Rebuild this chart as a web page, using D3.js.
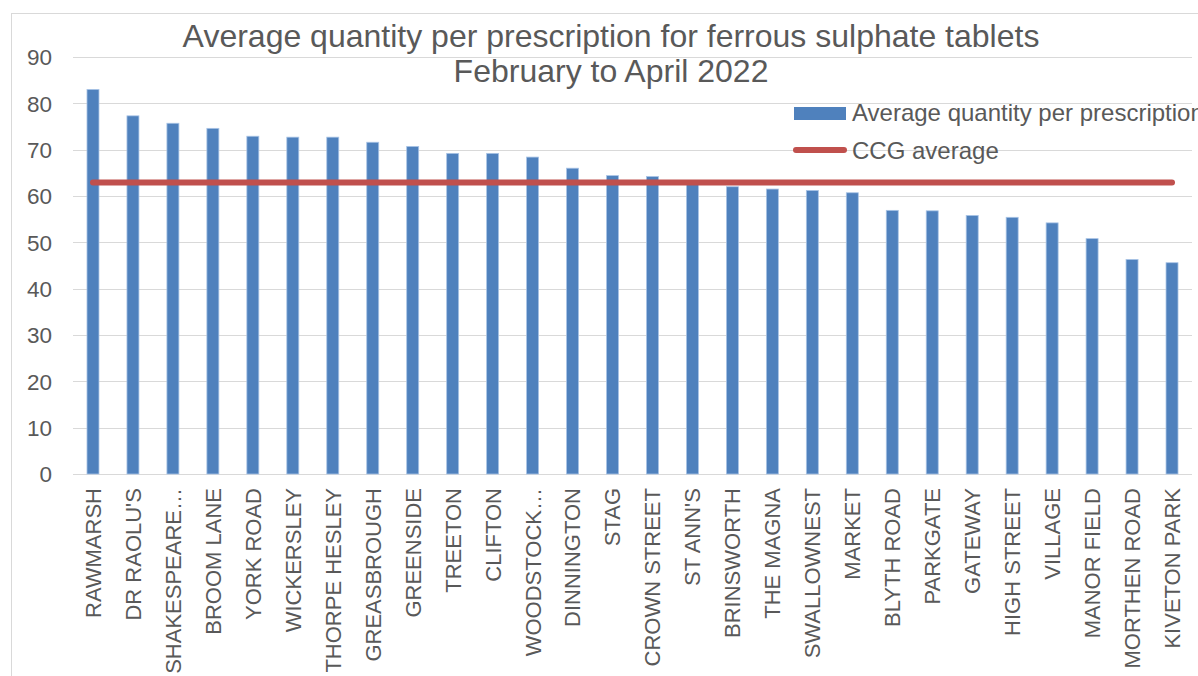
<!DOCTYPE html>
<html>
<head>
<meta charset="utf-8">
<script src="https://cdn.jsdelivr.net/npm/d3@7"></script>
<style>
html,body{margin:0;padding:0;background:#fff;overflow:hidden;}
svg{display:block;font-family:"Liberation Sans",Arial,sans-serif;}
</style>
</head>
<body>
<svg id="chart" width="1198" height="676"></svg>
<script>
const categories = ["RAWMARSH","DR RAOLU'S","SHAKESPEARE…","BROOM LANE","YORK ROAD","WICKERSLEY","THORPE HESLEY","GREASBROUGH","GREENSIDE","TREETON","CLIFTON","WOODSTOCK…","DINNINGTON","STAG","CROWN STREET","ST ANN'S","BRINSWORTH","THE MAGNA","SWALLOWNEST","MARKET","BLYTH ROAD","PARKGATE","GATEWAY","HIGH STREET","VILLAGE","MANOR FIELD","MORTHEN ROAD","KIVETON PARK"];
const avgQuantity = [83.0,77.3,75.7,74.6,72.9,72.7,72.7,71.6,70.7,69.2,69.2,68.4,66.0,64.4,64.2,62.6,62.0,61.5,61.2,60.7,56.9,56.8,55.8,55.4,54.2,50.8,46.3,45.6];
const ccgAverage = 62.9;
const yTicks = [0,10,20,30,40,50,60,70,80,90];
const titleLines = ["Average quantity per prescription for ferrous sulphate tablets","February to April 2022"];
const legendLabels = ["Average quantity per prescription","CCG average"];

const textColor = "#595959";
const barColor = "#4F81BD";
const lineColor = "#C0504D";
const gridColor = "#D9D9D9";

const svg = d3.select("#chart");

// chart area border
svg.append("rect").attr("x",11.5).attr("y",13.5).attr("width",1300).attr("height",800)
  .attr("fill","none").attr("stroke",gridColor).attr("stroke-width",1);

const plot = {left:73, right:1192, top:57, bottom:474};

const x = d3.scaleBand().domain(categories).range([plot.left, plot.right]).paddingInner(0.7).paddingOuter(0.35);
const y = d3.scaleLinear().domain([0,90]).range([plot.bottom, plot.top]);

// gridlines
svg.append("g").selectAll("line").data(yTicks).join("line")
  .attr("x1",plot.left).attr("x2",plot.right)
  .attr("y1",d=>Math.round(y(d))+0.5).attr("y2",d=>Math.round(y(d))+0.5)
  .attr("stroke",gridColor).attr("stroke-width",1.2);

// y axis labels
const yAxis = d3.axisLeft(y).tickValues(yTicks).tickSize(0).tickPadding(0).tickFormat(d3.format("d"));
const gy = svg.append("g").attr("transform",`translate(52,0)`).call(yAxis);
gy.select(".domain").remove();
gy.selectAll("text").attr("fill",textColor).style("font-size","22.5px").attr("dy","0.35em");

// bars
svg.append("g").selectAll("rect").data(avgQuantity).join("rect")
  .attr("x",(d,i)=>x(categories[i]))
  .attr("width",x.bandwidth())
  .attr("y",d=>y(d))
  .attr("height",d=>y(0)-y(d))
  .attr("fill",barColor)
  .attr("stroke","#A9C4E6").attr("stroke-width",0.8);

// x axis labels
const xAxis = d3.axisBottom(x).tickSize(0).tickPadding(0);
const gx = svg.append("g").attr("transform",`translate(0,${plot.bottom})`).call(xAxis);
gx.select(".domain").remove();
gx.selectAll("text")
  .attr("fill",textColor).style("font-size","22px")
  .attr("text-anchor","end")
  .attr("transform","rotate(-90)")
  .attr("x",-14).attr("y",0).attr("dy","0.36em");

// CCG average line
const line = d3.line().x(d=>x(d)+x.bandwidth()/2).y(()=>y(ccgAverage));
svg.append("path").datum(categories).attr("d",line)
  .attr("fill","none").attr("stroke",lineColor).attr("stroke-width",6).attr("stroke-linecap","round");

// title
svg.append("g").selectAll("text").data(titleLines).join("text")
  .attr("x",611).attr("y",(d,i)=>47+i*35)
  .attr("text-anchor","middle").attr("fill",textColor).style("font-size","32px")
  .text(d=>d);

// legend
const lg = svg.append("g");
lg.append("rect").attr("x",794).attr("y",107).attr("width",52).attr("height",13).attr("fill",barColor);
lg.append("line").attr("x1",796).attr("x2",844).attr("y1",150).attr("y2",150)
  .attr("stroke",lineColor).attr("stroke-width",6).attr("stroke-linecap","round");
lg.selectAll("text").data(legendLabels).join("text")
  .attr("x",852).attr("y",(d,i)=>121+i*38)
  .attr("fill",textColor).style("font-size","24px").text(d=>d);
</script>
</body>
</html>
